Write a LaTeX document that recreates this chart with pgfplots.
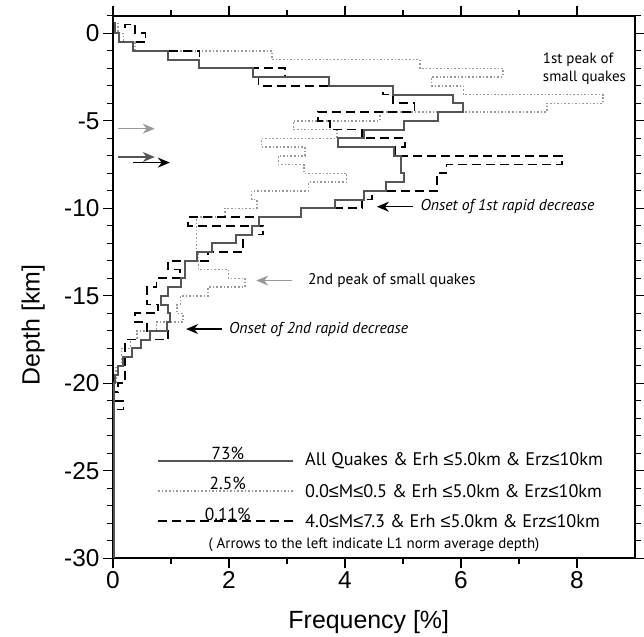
\documentclass[border=0pt]{standalone}
\usepackage{pgfplots}
\pgfplotsset{compat=1.18}
\usepackage{fontspec}
\setmainfont{Liberation Sans}
\newfontfamily\myr{PT Sans}
\newcommand\LE{{\rmfamily ≤}}
\usetikzlibrary{arrows.meta}
\definecolor{solidc}{HTML}{555555}
\definecolor{dotc}{HTML}{999999}
\tikzset{
  solidl/.style={solidc, line width=2bp},
  dotl/.style={dotc, line width=1.5bp, dash pattern=on 1.6bp off 2bp},
  dashl/.style={black, line width=1.8bp, dash pattern=on 9bp off 5bp},
}
\begin{document}
\begin{tikzpicture}
\useasboundingbox (-113bp,-78.7bp) rectangle (531bp,558.3bp);
\begin{axis}[
  at={(0,0)}, anchor=south west,
  scale only axis, width=522bp, height=542.5bp,
  xmin=0, xmax=9, ymin=-30, ymax=1,
  xtick={0,2,4,6,8}, minor xtick={1,3,5,7},
  ytick={0,-5,-10,-15,-20,-25,-30},
  minor ytick={-1,-2,-3,-4,-6,-7,-8,-9,-11,-12,-13,-14,-16,-17,-18,-19,-21,-22,-23,-24,-26,-27,-28,-29,1},
  tick align=outside,
  major tick length=10bp, minor tick length=6bp,
  axis line style={line width=1.8bp},
  every tick/.style={black, line width=1.2bp},
  /pgf/number format/assume math mode=true,
  ticklabel style={font=\fontsize{24.5}{28}\selectfont},
  label style={font=\fontsize{25}{29}\selectfont},
  xlabel={Frequency [\%]}, ylabel={Depth [km]},
  xlabel style={at={(axis description cs:0.49,-0.118)}, anchor=center},
  ylabel style={at={(axis description cs:-0.153,0.43)}, anchor=center},
]
% 0.0<=M<=0.5 (dotted)
\addplot[dotl] coordinates {
(0.09,0.6)(0.09,0)(0.18,0)(0.18,-0.5)(0.38,-0.5)(0.38,-1)
(2.74,-1)(2.74,-1.5)(5.29,-1.5)(5.29,-2)(6.72,-2)(6.72,-2.5)
(5.49,-2.5)(5.49,-3)(6.04,-3)(6.04,-3.5)(8.45,-3.5)(8.45,-4)
(7.48,-4)(7.48,-4.5)(4.6,-4.5)(4.6,-5)(3.11,-5)(3.11,-5.5)
(3.86,-5.5)(3.86,-6)(2.56,-6)(2.56,-6.5)(3.31,-6.5)(3.31,-7)
(2.85,-7)(2.85,-7.5)(3.29,-7.5)(3.29,-8)(4.03,-8)(4.03,-8.5)
(3.37,-8.5)(3.37,-9)(2.39,-9)(2.39,-9.5)(2.48,-9.5)(2.48,-10)
(1.93,-10)(1.93,-10.5)(1.44,-10.5)(1.44,-12.5)(1.47,-12.5)(1.47,-13.5)
(1.99,-13.5)(1.99,-14)(2.28,-14)(2.28,-14.5)(1.64,-14.5)(1.64,-15)
(1.16,-15)(1.16,-15.5)(1.10,-15.5)(1.10,-16)(1.21,-16)(1.21,-16.5)
(0.75,-16.5)(0.75,-17)(0.41,-17)(0.41,-17.5)(0.30,-17.5)(0.30,-18)
(0.15,-18)(0.15,-19)(0.05,-19)(0.05,-20)(0.02,-20)(0.02,-30)
};
% 4.0<=M<=7.3 (dashed)
\addplot[dashl] coordinates {
(0.21,0.3)(0.21,0.5)(0.38,0.5)(0.38,0)(0.56,0)(0.56,-0.5)
(0.35,-0.5)(0.35,-1)(1.49,-1)(1.49,-2)(2.97,-2)(2.97,-2.5)
(2.51,-2.5)(2.51,-3)(4.65,-3)(4.65,-3.5)(4.83,-3.5)(4.83,-4)
(5.2,-4)(5.2,-4.5)(3.53,-4.5)(3.53,-5)(3.74,-5)(3.74,-5.5)
(4.3,-5.5)(4.3,-6)(5.03,-6)(5.03,-6.5)(4.86,-6.5)(4.86,-7)
(7.74,-7)(7.74,-7.5)(5.75,-7.5)(5.75,-8)(5.58,-8)(5.58,-9)
(4.46,-9)(4.46,-9.5)(4.3,-9.5)(4.3,-10)(3.24,-10)(3.24,-10.5)
(1.30,-10.5)(1.30,-11)(2.59,-11)(2.59,-11.5)(2.24,-11.5)(2.24,-12.5)
(1.64,-12.5)(1.64,-13)(0.95,-13)(0.95,-13.5)(1.16,-13.5)(1.16,-14)
(0.75,-14)(0.75,-14.5)(0.58,-14.5)(0.58,-15.5)(0.78,-15.5)(0.78,-16)
(0.38,-16)(0.38,-16.5)(0.58,-16.5)(0.58,-17)(0.95,-17)(0.95,-17.5)
(0.21,-17.5)(0.21,-20)(0.08,-20)(0.08,-20.5)(0.02,-20.5)(0.02,-21)
(0.18,-21)(0.18,-21.5)(0,-21.5)
};
% All quakes (solid)
\addplot[solidl] coordinates {
(0.03,0.65)(0.03,0)(0.11,0)(0.11,-0.5)(0.35,-0.5)(0.35,-1)
(0.95,-1)(0.95,-1.5)(1.49,-1.5)(1.49,-2)(2.41,-2)(2.41,-2.5)
(3.72,-2.5)(3.72,-3)(4.83,-3)(4.83,-3.5)(5.86,-3.5)(5.86,-4)
(6.03,-4)(6.03,-4.5)(5.6,-4.5)(5.6,-5)(5.02,-5)(5.02,-5.5)
(4.33,-5.5)(4.33,-6)(3.88,-6)(3.88,-6.5)(4.85,-6.5)(4.85,-7)
(4.97,-7)(4.97,-8)(5.02,-8)(5.02,-8.5)(4.7,-8.5)(4.7,-9)
(4.33,-9)(4.33,-9.5)(3.83,-9.5)(3.83,-10)(3.24,-10)(3.24,-10.5)
(2.51,-10.5)(2.51,-11)(2.39,-11)(2.39,-11.5)(2.12,-11.5)(2.12,-12)
(1.70,-12)(1.70,-12.5)(1.45,-12.5)(1.45,-13)(1.24,-13)(1.24,-14)
(1.17,-14)(1.17,-14.5)(0.95,-14.5)(0.95,-15)(0.83,-15)(0.83,-15.5)
(0.95,-15.5)(0.95,-16)(0.98,-16)(0.98,-16.5)(0.93,-16.5)(0.93,-17)
(0.64,-17)(0.64,-17.5)(0.49,-17.5)(0.49,-18)(0.33,-18)(0.33,-18.5)
(0.18,-18.5)(0.18,-19)(0.09,-19)(0.09,-19.5)(0.03,-19.5)(0.03,-20)
(0.01,-20)(0.01,-30)
};
% L1-norm average depth arrows
\draw[-{Stealth[length=12bp,width=10bp]}, line width=1.5bp, dotc] (axis cs:0.09,-5.45) -- (axis cs:0.72,-5.45);
\draw[-{Stealth[length=12bp,width=10bp]}, line width=1.5bp, solidc] (axis cs:0.09,-7.07) -- (axis cs:0.72,-7.07);
\draw[-{Stealth[length=12bp,width=10bp]}, line width=1.5bp, black] (axis cs:0.35,-7.39) -- (axis cs:0.98,-7.39);
% annotations
\node[anchor=west, align=left, font=\myr\fontsize{15}{18}\selectfont, inner sep=0pt] at (axis cs:7.41,-2.0) {1st peak of\\small quakes};
\draw[-{Stealth[length=12bp,width=10bp]}, line width=1.2bp, black] (axis cs:5.17,-9.91) -- (axis cs:4.55,-9.91);
\node[anchor=west, font=\myr\itshape\fontsize{15.8}{18}\selectfont, inner sep=0pt] at (axis cs:5.3,-9.91) {Onset of 1st rapid decrease};
\draw[-{Stealth[length=12bp,width=10bp]}, line width=1.2bp, dotc] (axis cs:3.09,-14.13) -- (axis cs:2.47,-14.13);
\node[anchor=west, font=\myr\fontsize{15.5}{18}\selectfont, inner sep=0pt] at (axis cs:3.36,-14.13) {2nd peak of small quakes};
\draw[-{Stealth[length=12bp,width=10bp]}, line width=1.2bp, black] (axis cs:1.88,-16.9) -- (axis cs:1.26,-16.9);
\node[anchor=west, font=\myr\itshape\fontsize{15.8}{18}\selectfont, inner sep=0pt] at (axis cs:2.0,-16.9) {Onset of 2nd rapid decrease};
% legend
\draw[solidl, line width=1.5bp] (axis cs:0.78,-24.44) -- (axis cs:3.10,-24.44);
\draw[dotl] (axis cs:0.78,-26.15) -- (axis cs:3.10,-26.15);
\draw[dashl, line width=1.5bp] (axis cs:0.78,-27.87) -- (axis cs:3.10,-27.87);
\node[anchor=south, font=\myr\fontsize{17.5}{20}\selectfont, inner sep=1bp] at (axis cs:1.98,-24.44) {73\%};
\node[anchor=south, font=\myr\fontsize{17.5}{20}\selectfont, inner sep=1bp] at (axis cs:1.98,-26.15) {2.5\%};
\node[anchor=south, font=\myr\fontsize{17.5}{20}\selectfont, inner sep=0bp] at (axis cs:1.98,-27.87) {0.11\%};
\node[anchor=west, font=\myr\fontsize{18.3}{21}\selectfont, inner sep=0pt] at (axis cs:3.31,-24.44) {All Quakes \& Erh \LE5.0km \& Erz\LE10km};
\node[anchor=west, font=\myr\fontsize{18.3}{21}\selectfont, inner sep=0pt] at (axis cs:3.31,-26.15) {0.0\LE M\LE0.5 \& Erh \LE5.0km \& Erz\LE10km};
\node[anchor=west, font=\myr\fontsize{18.3}{21}\selectfont, inner sep=0pt] at (axis cs:3.31,-27.87) {4.0\LE M\LE7.3 \& Erh \LE5.0km \& Erz\LE10km};
\node[font=\myr\fontsize{15}{18}\selectfont, inner sep=0pt] at (axis cs:4.5,-29.24) {( Arrows to the left indicate L1 norm average depth)};
\end{axis}
\end{tikzpicture}
\end{document}
